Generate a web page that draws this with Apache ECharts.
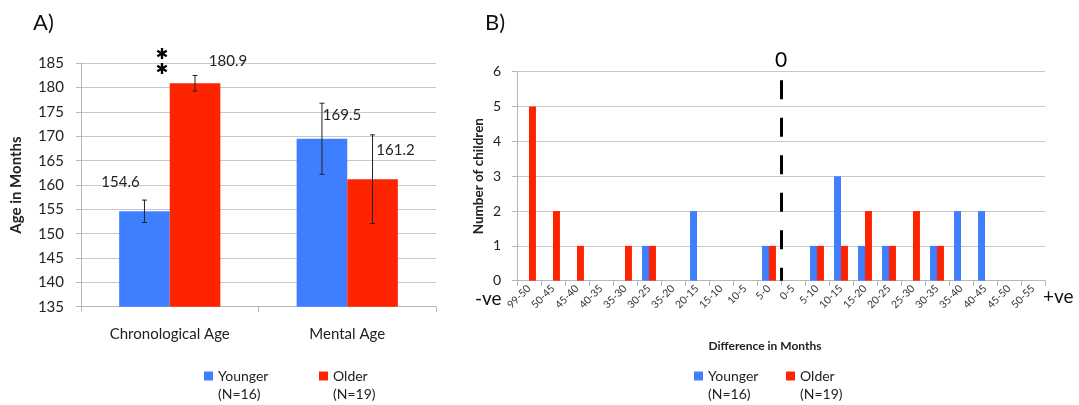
<!DOCTYPE html>
<html>
<head>
<meta charset="utf-8">
<script src="https://cdn.jsdelivr.net/npm/echarts@6/dist/echarts.min.js"></script>
<style>
  html, body { margin: 0; padding: 0; background: #fff; }
  #chart { width: 1079px; height: 405px; }
</style>
</head>
<body>
<div id="chart"></div>
<script>
// Panel A: mean age per group
const ageCategories = ['Chronological Age', 'Mental Age'];
const youngerAge = [154.6, 169.5];
const olderAge = [180.9, 161.2];
const youngerAgeErr = [2.3, 7.3];
const olderAgeErr = [1.6, 9.1];
const ageTicks = { min: 135, max: 185, step: 5 };

// Panel B: distribution of (mental - chronological) differences
const diffCategories = ['99-50', '50-45', '45-40', '40-35', '35-30', '30-25', '35-20', '20-15',
  '15-10', '10-5', '5-0', '0-5', '5-10', '10-15', '15-20', '20-25', '25-30', '30-35',
  '35-40', '40-45', '45-50', '50-55'];
const youngerCounts = [0, 0, 0, 0, 0, 1, 0, 2, 0, 0, 1, 0, 1, 3, 1, 1, 0, 1, 2, 2, 0, 0];
const olderCounts   = [5, 2, 1, 0, 1, 1, 0, 0, 0, 0, 1, 0, 1, 1, 2, 1, 2, 1, 0, 0, 0, 0];
const countTicks = { min: 0, max: 6, step: 1 };
const zeroBoundary = 11; // boundary between "5-0" and "0-5"

const BLUE = '#3f7fff';
const RED = '#ff2400';
const GRID = '#c8c8c8';
const AXIS = '#b8b8b8';
const TEXT = '#222';
const FONT = 'Lato, "Open Sans", sans-serif';

const chart = echarts.init(document.getElementById('chart'));

const catGapA = 0.43;

function errorBars(values, errs, side) {
  return {
    type: 'custom',
    xAxisIndex: 0, yAxisIndex: 0,
    z: 5,
    data: values.map((v, i) => [i, v, errs[i]]),
    renderItem: function (params, api) {
      const band = api.size([1, 0])[0];
      const barW = band * (1 - catGapA) / 2;
      const c = api.coord([api.value(0), api.value(1)]);
      const x = c[0] + side * barW / 2;
      const yTop = api.coord([api.value(0), api.value(1) + api.value(2)])[1];
      const yBot = api.coord([api.value(0), api.value(1) - api.value(2)])[1];
      const cap = 2.5;
      const st = { stroke: TEXT, lineWidth: 1 };
      return {
        type: 'group',
        children: [
          { type: 'line', shape: { x1: x, y1: yTop, x2: x, y2: yBot }, style: st },
          { type: 'line', shape: { x1: x - cap, y1: yTop, x2: x + cap, y2: yTop }, style: st },
          { type: 'line', shape: { x1: x - cap, y1: yBot, x2: x + cap, y2: yBot }, style: st }
        ]
      };
    }
  };
}

const youngerLabelOffsets = [[-24, -17], [20, -11]];
const olderLabelOffsets = [[33, -10], [23, -17]];

function labelled(values, offsets) {
  return values.map((v, i) => ({
    value: v,
    label: { show: true, position: 'top', offset: offsets[i], formatter: '{c}' }
  }));
}

// legend entries: blank first line so the group name sits level with the swatch
const legendText = { color: TEXT, fontSize: 14, fontFamily: FONT, lineHeight: 18 };
function legendItem(name, sub, left) {
  return {
    data: [name], left: left, top: 349, padding: 0,
    icon: 'rect', itemWidth: 9, itemHeight: 9, itemGap: 0,
    formatter: n => '\n' + n + '\n' + sub,
    textStyle: legendText
  };
}

const option = {
  animation: false,
  textStyle: { fontFamily: FONT },
  graphic: [
    { type: 'text', left: 33, top: 12, style: { text: 'A)', font: '22px ' + FONT, fill: '#111' } },
    { type: 'text', left: 485, top: 12, style: { text: 'B)', font: '22px ' + FONT, fill: '#111' } },
    { type: 'text', left: 475, top: 289, style: { text: '-ve', font: '19px ' + FONT, fill: '#111' } },
    { type: 'text', left: 1043, top: 287, style: { text: '+ve', font: '19px ' + FONT, fill: '#111' } }
  ],
  legend: [
    legendItem('Younger', '(N=16)', 204),
    legendItem('Older', '(N=19)', 319),
    legendItem('Younger', '(N=16)', 694),
    legendItem('Older', '(N=19)', 786)
  ],
  grid: [
    { left: 81, top: 63.3, width: 355, height: 243.4 },
    { left: 517, top: 71.7, width: 528, height: 209 }
  ],
  xAxis: [
    {
      type: 'category', gridIndex: 0, data: ageCategories,
      axisLine: { lineStyle: { color: AXIS } },
      axisTick: { show: true, length: 5, lineStyle: { color: AXIS } },
      axisLabel: { color: TEXT, fontSize: 15, margin: 20 }
    },
    {
      type: 'category', gridIndex: 1, data: diffCategories,
      name: 'Difference in Months', nameLocation: 'middle', nameGap: 59,
      nameTextStyle: { color: TEXT, fontSize: 12, fontWeight: 'bold', padding: [0, 32, 0, 0] },
      axisLine: { lineStyle: { color: AXIS } },
      axisTick: { show: true, length: 5, lineStyle: { color: AXIS } },
      axisLabel: { color: '#333', fontSize: 10.5, rotate: 45, interval: 0, margin: 6 }
    },
    { type: 'value', gridIndex: 1, min: 0, max: diffCategories.length, show: false }
  ],
  yAxis: [
    {
      type: 'value', gridIndex: 0, min: ageTicks.min, max: ageTicks.max, interval: ageTicks.step,
      name: 'Age in Months', nameLocation: 'middle', nameGap: 57, nameRotate: 90,
      nameTextStyle: { color: TEXT, fontSize: 15, fontWeight: 'bold' },
      axisLine: { show: true, lineStyle: { color: AXIS } },
      axisTick: { show: true, length: 5, lineStyle: { color: AXIS } },
      axisLabel: { color: TEXT, fontSize: 15, margin: 17 },
      splitLine: { lineStyle: { color: GRID } }
    },
    {
      type: 'value', gridIndex: 1, min: countTicks.min, max: countTicks.max, interval: countTicks.step,
      name: 'Number of children', nameLocation: 'middle', nameGap: 31, nameRotate: 90,
      nameTextStyle: { color: TEXT, fontSize: 13.5, fontWeight: 'bold' },
      axisLine: { show: true, lineStyle: { color: AXIS } },
      axisTick: { show: true, length: 5, lineStyle: { color: AXIS } },
      axisLabel: { color: TEXT, fontSize: 14, margin: 16 },
      splitLine: { lineStyle: { color: GRID } }
    }
  ],
  series: [
    {
      name: 'Younger', type: 'bar', xAxisIndex: 0, yAxisIndex: 0,
      data: labelled(youngerAge, youngerLabelOffsets),
      itemStyle: { color: BLUE }, barGap: '0%', barCategoryGap: '43%',
      label: { color: TEXT, fontSize: 15 }
    },
    {
      name: 'Older', type: 'bar', xAxisIndex: 0, yAxisIndex: 0,
      data: labelled(olderAge, olderLabelOffsets),
      itemStyle: { color: RED }, barGap: '0%', barCategoryGap: '43%',
      label: { color: TEXT, fontSize: 15 },
      markPoint: {
        symbol: 'circle', symbolSize: 0,
        data: [{ coord: [0, olderAge[0]] }],
        label: {
          show: true, position: 'inside', offset: [-33, -21],
          formatter: '\u2731\n\u2731', color: '#000',
          fontFamily: 'DejaVu Sans', fontSize: 15, lineHeight: 15
        }
      }
    },
    errorBars(youngerAge, youngerAgeErr, -1),
    errorBars(olderAge, olderAgeErr, 1),
    {
      name: 'Younger', type: 'bar', xAxisIndex: 1, yAxisIndex: 1,
      data: youngerCounts, itemStyle: { color: BLUE },
      barGap: '0%', barCategoryGap: '42%'
    },
    {
      name: 'Older', type: 'bar', xAxisIndex: 1, yAxisIndex: 1,
      data: olderCounts, itemStyle: { color: RED },
      barGap: '0%', barCategoryGap: '42%'
    },
    {
      // zero-difference divider between the negative and positive bins
      type: 'line', xAxisIndex: 2, yAxisIndex: 1, silent: true, clip: false,
      data: [[zeroBoundary, 0]], showSymbol: false, symbol: 'none',
      lineStyle: { opacity: 0 },
      markLine: {
        silent: true, symbol: ['none', 'none'],
        lineStyle: { color: '#000', width: 3, type: [19, 18.5], dashOffset: 6 },
        label: { show: true, position: 'end', formatter: '0', color: '#000', fontSize: 21, distance: 9, fontFamily: FONT },
        data: [[{ coord: [zeroBoundary, 0] }, { coord: [zeroBoundary, 5.77] }]]
      }
    }
  ]
};

chart.setOption(option);
</script>
</body>
</html>
